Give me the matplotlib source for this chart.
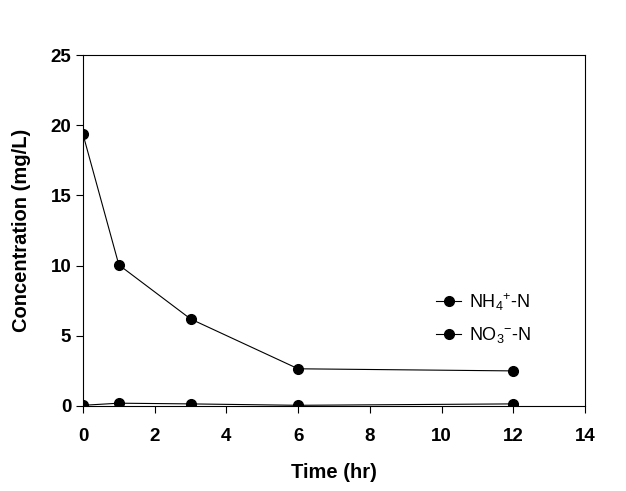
import matplotlib.pyplot as plt

plt.rcParams['font.family'] = ['Liberation Sans', 'DejaVu Sans']
plt.rcParams['mathtext.fontset'] = 'custom'
plt.rcParams['mathtext.rm'] = 'Liberation Sans'
plt.rcParams['mathtext.it'] = 'Liberation Sans'
plt.rcParams['mathtext.bf'] = 'Liberation Sans:bold'

# datos
time_hr = [0, 1, 3, 6, 12]
nh4_n = [19.35, 10.05, 6.2, 2.65, 2.5]
no3_n = [0.05, 0.2, 0.15, 0.05, 0.15]

fig = plt.figure(figsize=(6.26, 4.91), dpi=100)
ax = fig.add_axes([83 / 626, 85 / 491, 502 / 626, 351 / 491])

ax.plot(time_hr, nh4_n, color='black', lw=0.8, marker='o', ms=7, label=r'NH$\mathregular{_4}^{\mathregular{+}}$-N')
ax.plot(time_hr, no3_n, color='black', lw=0.8, marker='o', ms=7, label=r'NO$\mathregular{_3}^{\mathregular{-}}$-N')

ax.set_xlim(0, 14)
ax.set_ylim(0, 25)
ax.set_xticks(range(0, 15, 2))
ax.set_yticks(range(0, 26, 5))
ax.tick_params(direction='out', length=5, width=0.8, labelsize=13.5)
ax.tick_params(axis='x', pad=11)
for lab in ax.get_xticklabels() + ax.get_yticklabels():
    lab.set_fontweight('bold')
for sp in ax.spines.values():
    sp.set_linewidth(0.8)

ax.set_xlabel('Time (hr)', fontsize=14.5, fontweight='bold', labelpad=13)
ax.set_ylabel('Concentration (mg/L)', fontsize=14.5, fontweight='bold', labelpad=14)

ax.legend(loc='center left', bbox_to_anchor=(0.703, 0.25), frameon=False, fontsize=13,
          borderaxespad=0, borderpad=0,
          handlelength=1.4, handletextpad=0.45, labelspacing=0.7)

plt.savefig('out.png', dpi=100)
